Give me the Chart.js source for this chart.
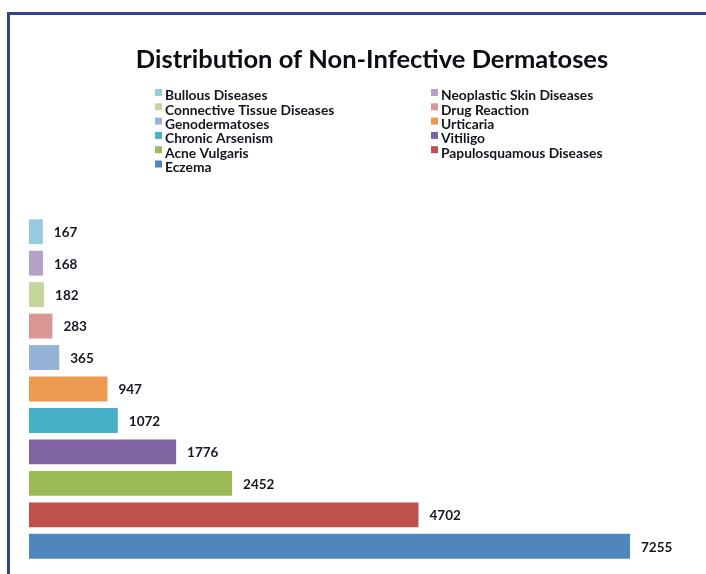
<!DOCTYPE html>
<html>
<head>
<meta charset="utf-8">
<script src="https://cdn.jsdelivr.net/npm/chart.js@4/dist/chart.umd.min.js"></script>
<style>
  html, body { margin: 0; padding: 0; background: #fff; }
  #wrap { width: 706px; height: 574px; }
</style>
</head>
<body>
<div id="wrap"><canvas id="chart" width="706" height="574"></canvas></div>
<script>
// bars from top to bottom, legend reads them row by row in two columns
const categories = [
  "Bullous Diseases", "Neoplastic Skin Diseases", "Connective Tissue Diseases",
  "Drug Reaction", "Genodermatoses", "Urticaria", "Chronic Arsenism",
  "Vitiligo", "Acne Vulgaris", "Papulosquamous Diseases", "Eczema"
];
const cases = [167, 168, 182, 283, 365, 947, 1072, 1776, 2452, 4702, 7255];
const colors = [
  "#93cddd", "#b3a2c7", "#c3d69b", "#d99694", "#95b3d7", "#eb9a4f",
  "#46b1c8", "#8064a2", "#9bbb59", "#c0504d", "#4f87bd"
];
const titleText = "Distribution of Non-Infective Dermatoses";

// frame, title and legend drawn on the canvas
const decorPlugin = {
  id: "decor",
  beforeDraw(chart) {
    const ctx = chart.ctx;
    ctx.save();
    ctx.fillStyle = "#2f4592";
    ctx.fillRect(7, 12, 699, 3);
    ctx.fillRect(7, 12, 3, 562);

    ctx.fillStyle = "#0d0d14";
    ctx.font = "bold 25.5px Lato";
    ctx.textAlign = "center";
    ctx.textBaseline = "middle";
    ctx.fillText(titleText, 372, 60);

    ctx.font = "bold 13.8px Lato";
    ctx.textAlign = "left";
    categories.forEach((name, i) => {
      const col = i % 2;
      const row = Math.floor(i / 2);
      const x = col === 0 ? 155 : 431;
      const y = 96 + row * 14.3;
      ctx.fillStyle = colors[i];
      ctx.fillRect(x, y - 7, 7, 7);
      ctx.fillStyle = "#15151f";
      ctx.fillText(name, x + 10, y);
    });
    ctx.restore();
  },
  afterDatasetsDraw(chart) {
    const ctx = chart.ctx;
    const meta = chart.getDatasetMeta(0);
    ctx.save();
    ctx.font = "bold 13.5px Lato";
    ctx.fillStyle = "#181826";
    ctx.textAlign = "left";
    ctx.textBaseline = "middle";
    meta.data.forEach((bar, i) => {
      ctx.fillText(String(cases[i]), bar.x + 11, bar.y + 1);
    });
    ctx.restore();
  }
};

new Chart(document.getElementById("chart").getContext("2d"), {
  type: "bar",
  data: {
    labels: categories,
    datasets: [{
      data: cases,
      backgroundColor: colors,
      borderWidth: 0,
      categoryPercentage: 1,
      barPercentage: 0.79
    }]
  },
  options: {
    indexAxis: "y",
    responsive: false,
    animation: false,
    layout: { padding: { top: 216, left: 29, right: 76, bottom: 12 } },
    scales: {
      x: { display: false, min: 0, max: 7255 },
      y: { display: false }
    },
    plugins: {
      legend: { display: false },
      title: { display: false },
      tooltip: { enabled: false }
    }
  },
  plugins: [decorPlugin]
});
</script>
</body>
</html>
